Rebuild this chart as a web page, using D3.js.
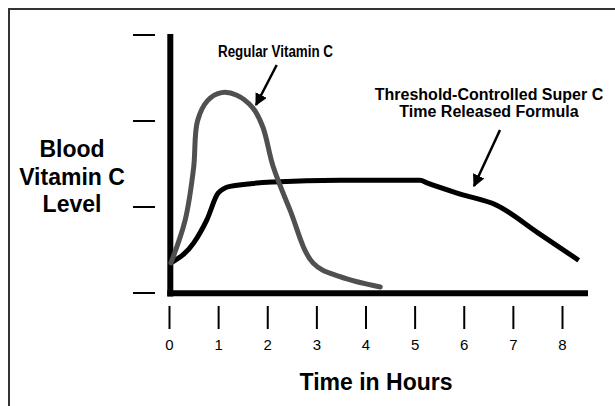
<!DOCTYPE html>
<html>
<head>
<meta charset="utf-8">
<script src="https://cdn.jsdelivr.net/npm/d3@7"></script>
<style>
  body { margin: 0; background: #fff; }
  text { font-family: "Liberation Sans", Arial, Helvetica, sans-serif; fill: #000; }
</style>
</head>
<body>
<div id="chart"></div>
<script>
// hours on the x axis
const hourTicks = [0, 1, 2, 3, 4, 5, 6, 7, 8];
// unlabelled level marks on the y axis
const levelTicks = [0, 1, 2, 3];

// regular vitamin C: [hours, level]
const regularHours = [0.03, 0.32, 0.49, 0.57, 0.78, 1.06, 1.37, 1.70, 1.90, 2.11, 2.45, 2.92, 3.47, 4.29];
const regularLevel = [0.35, 0.85, 1.45, 2.00, 2.24, 2.33, 2.30, 2.15, 1.93, 1.47, 0.97, 0.35, 0.19, 0.07];

// threshold-controlled super C
const superHours = [0.03, 0.49, 0.76, 0.99, 1.23, 2.11, 3.47, 5.10, 5.24, 5.92, 6.66, 7.50, 8.33];
const superLevel = [0.35, 0.58, 0.85, 1.16, 1.24, 1.29, 1.31, 1.31, 1.28, 1.15, 1.02, 0.70, 0.38];

const W = 615, H = 406;

const svg = d3.select("#chart").append("svg")
    .attr("width", W)
    .attr("height", H);

// frame running off the page to the right and bottom
svg.append("rect")
    .attr("x", 9).attr("y", 9)
    .attr("width", W + 20).attr("height", H + 20)
    .attr("fill", "none")
    .attr("stroke", "#333")
    .attr("stroke-width", 2);

const x = d3.scaleLinear().domain([0, 8]).range([169.5, 562.5]);
const y = d3.scaleLinear().domain([0, 3]).range([293, 35]);

// y axis ticks (short dashes left of the axis, no labels)
svg.append("g")
    .selectAll("line")
    .data(levelTicks)
    .enter().append("line")
    .attr("x1", 133).attr("x2", 155)
    .attr("y1", d => y(d)).attr("y2", d => y(d))
    .attr("stroke", "#000")
    .attr("stroke-width", 2);

// x axis ticks, detached below the axis
const xt = svg.append("g")
    .selectAll("g")
    .data(hourTicks)
    .enter().append("g")
    .attr("transform", d => "translate(" + x(d) + ",0)");
xt.append("line")
    .attr("y1", 306).attr("y2", 329)
    .attr("stroke", "#000")
    .attr("stroke-width", 2);
xt.append("text")
    .attr("y", 350)
    .attr("text-anchor", "middle")
    .style("font-size", "15px")
    .text(d => d);

// axis lines
svg.append("line")
    .attr("x1", 170.3).attr("x2", 170.3)
    .attr("y1", 34).attr("y2", 296.5)
    .attr("stroke", "#000").attr("stroke-width", 6);
svg.append("line")
    .attr("x1", 167.3).attr("x2", 588)
    .attr("y1", 293.3).attr("y2", 293.3)
    .attr("stroke", "#000").attr("stroke-width", 6);

const line = d3.line()
    .x(d => x(d[0]))
    .y(d => y(d[1]));

svg.append("path")
    .datum(superHours.map((h, i) => [h, superLevel[i]]))
    .attr("d", line.curve(d3.curveMonotoneX))
    .attr("fill", "none")
    .attr("stroke", "#000")
    .attr("stroke-width", 5)
    .attr("stroke-linejoin", "round");

svg.append("path")
    .datum(regularHours.map((h, i) => [h, regularLevel[i]]))
    .attr("d", line.curve(d3.curveCatmullRom.alpha(0.5)))
    .attr("fill", "none")
    .attr("stroke", "#505050")
    .attr("stroke-width", 5)
    .attr("stroke-linecap", "round");

// axis titles
svg.append("text")
    .attr("x", 376).attr("y", 389.5)
    .attr("text-anchor", "middle")
    .style("font-size", "23px").style("font-weight", "bold")
    .text("Time in Hours");

svg.append("text")
    .attr("text-anchor", "middle")
    .style("font-size", "23px").style("font-weight", "bold")
    .selectAll("tspan")
    .data(["Blood", "Vitamin C", "Level"])
    .enter().append("tspan")
    .attr("x", 72)
    .attr("y", (d, i) => 157 + i * 27.5)
    .text(d => d);

// annotations
svg.append("defs").append("marker")
    .attr("id", "head")
    .attr("viewBox", "0 0 10 10")
    .attr("refX", 9).attr("refY", 5)
    .attr("markerWidth", 5).attr("markerHeight", 5)
    .attr("markerUnits", "strokeWidth")
    .attr("orient", "auto")
    .append("path")
    .attr("d", "M0,0 L10,5 L0,10 Z")
    .attr("fill", "#000");

svg.append("text")
    .attr("x", 218).attr("y", 56.5)
    .attr("textLength", 115)
    .attr("lengthAdjust", "spacingAndGlyphs")
    .style("font-size", "16px").style("font-weight", "bold")
    .text("Regular Vitamin C");
svg.append("line")
    .attr("x1", 276.7).attr("y1", 65)
    .attr("x2", 256).attr("y2", 105)
    .attr("stroke", "#000").attr("stroke-width", 2.5)
    .attr("marker-end", "url(#head)");

svg.append("text")
    .attr("text-anchor", "middle")
    .style("font-size", "16px").style("font-weight", "bold")
    .selectAll("tspan")
    .data(["Threshold-Controlled Super C", "Time Released Formula"])
    .enter().append("tspan")
    .attr("x", 489)
    .attr("y", (d, i) => 99.5 + i * 17)
    .text(d => d);
svg.append("line")
    .attr("x1", 500).attr("y1", 130)
    .attr("x2", 474).attr("y2", 186)
    .attr("stroke", "#000").attr("stroke-width", 2.5)
    .attr("marker-end", "url(#head)");
</script>
</body>
</html>
